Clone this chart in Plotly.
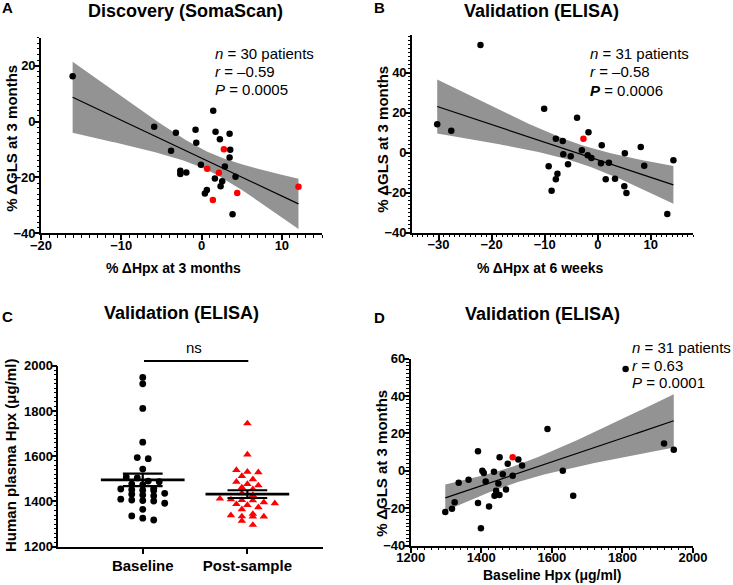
import numpy as np
import plotly.graph_objects as go

W, H = 733, 585
FONT = "Liberation Sans"

# ---------------- Panel A: Discovery (SomaScan) ----------------
a_hpx_black = [-16.06, -5.9, -3.2, -3.8, -0.75, -0.66, -2.65, -2.65, -1.9, -0.08,
               1.45, 1.74, 2.28, 3.49, 3.57, 3.49, 2.9, 1.66, 2.57, 2.37,
               0.66, 0.41, 4.23, 3.86]
a_gls_black = [16.2, -1.9, -4.0, -10.5, -2.9, -7.6, -17.6, -18.8, -18.2, -15.5,
               3.9, -3.7, -6.3, -4.4, -10.1, -12.9, -16.1, -20.4, -21.4, -23.2,
               -24.5, -25.8, -19.8, -33.2]
a_hpx_red = [0.7, 2.78, 2.16, 1.41, 4.44, 12.07]
a_gls_red = [-16.9, -9.9, -18.3, -28.1, -25.6, -23.3]

# ---------------- Panel B: Validation, % change at 6 weeks ----------------
b_hpx_black = [-22.1, -30.25, -27.6, -10.1, -3.9, -1.75, -7.9, -6.6, -6.5, -5.1,
               -3.0, -1.9, -1.2, 0.75, 0.6, 2.1, -9.25, -5.6, -7.6, -7.9,
               -8.7, 1.5, 3.25, 5.1, 5.0, 5.4, 8.1, 8.75, 14.25, 13.1]
b_gls_black = [53.8, 14.2, 11.0, 22.0, 17.5, 10.2, 7.0, 5.8, -0.8, -1.8,
               1.2, -1.3, -2.7, 3.7, -5.3, -5.0, -6.8, -5.8, -10.5, -13.3,
               -19.0, -13.3, -13.0, -0.3, -16.8, -20.2, 2.8, -6.5, -3.8, -30.7]
b_hpx_red = [-2.7]
b_gls_red = [7.0]

# ---------------- Panel C: Baseline vs post-sample Hpx ----------------
c_categories = ["Baseline", "Post-sample"]
c_baseline = [1948, 1920, 1811, 1662, 1594, 1589, 1543, 1508, 1504, 1490, 1487,
              1477, 1473, 1458, 1455, 1452, 1450, 1448, 1436, 1432, 1428, 1425,
              1410, 1406, 1404, 1402, 1392, 1365, 1336, 1326, 1318]
c_post = [1745, 1607, 1539, 1531, 1529, 1512, 1498, 1487, 1477, 1471, 1462,
          1454, 1436, 1428, 1412, 1409, 1406, 1405, 1396, 1392, 1388, 1384,
          1374, 1365, 1345, 1339, 1334, 1333, 1333, 1314, 1296]

# ---------------- Panel D: Baseline Hpx vs % dGLS ----------------
d_hpx_black = [1809, 1587.6, 1918, 1945.5, 1390.7, 1452, 1505, 1475, 1515.7, 1403,
               1407, 1436, 1461, 1489, 1631, 1364, 1336, 1412.5, 1448.5, 1470,
               1442, 1437.5, 1451.5, 1324.5, 1390.7, 1422, 1317, 1298, 1399, 1660.5]
d_gls_black = [54.4, 22.3, 14.6, 11.2, 10.4, 7.2, 6.0, 3.8, 2.9, 0.0,
               -1.2, -0.5, -1.8, -2.7, 0.0, -4.8, -6.4, -5.7, -6.8, -10.0,
               -10.6, -13.3, -12.9, -16.8, -17.2, -19.0, -20.3, -22.0, -30.7, -13.3]
d_hpx_red = [1489]
d_gls_red = [7.2]

# Student t (two-sided 95%) for df = n - 2
T95 = {28: 2.048, 29: 2.045}

BLACK = "black"
RED = "#ff0000"
BAND = "#939393"


def px_x(p):
    return p / W


def px_y(p):
    return 1 - p / H


def fit_band(x, y):
    x = np.asarray(x, float)
    y = np.asarray(y, float)
    n = len(x)
    b, a = np.polyfit(x, y, 1)
    resid = y - (a + b * x)
    s = np.sqrt(np.sum(resid ** 2) / (n - 2))
    xm = x.mean()
    sxx = np.sum((x - xm) ** 2)
    xs = np.linspace(x.min(), x.max(), 120)
    yh = a + b * xs
    se = s * np.sqrt(1.0 / n + (xs - xm) ** 2 / sxx)
    t = T95[n - 2]
    return xs, yh, yh - t * se, yh + t * se


fig = go.Figure()


def add_regression_panel(xa, ya, xb, yb, xr, yr):
    allx = list(xb) + list(xr)
    ally = list(yb) + list(yr)
    xs, yh, lo, hi = fit_band(allx, ally)
    fig.add_trace(go.Scatter(
        x=np.concatenate([xs, xs[::-1]]), y=np.concatenate([hi, lo[::-1]]),
        fill="toself", fillcolor=BAND, line=dict(width=0), mode="lines",
        hoverinfo="skip", showlegend=False, xaxis=xa, yaxis=ya))
    fig.add_trace(go.Scatter(x=xs, y=yh, mode="lines", line=dict(color=BLACK, width=1.2),
                             showlegend=False, xaxis=xa, yaxis=ya))
    fig.add_trace(go.Scatter(x=xb, y=yb, mode="markers",
                             marker=dict(color=BLACK, size=6.5, line=dict(width=0)),
                             showlegend=False, xaxis=xa, yaxis=ya, cliponaxis=False))
    fig.add_trace(go.Scatter(x=xr, y=yr, mode="markers",
                             marker=dict(color=RED, size=6.5, line=dict(width=0)),
                             showlegend=False, xaxis=xa, yaxis=ya, cliponaxis=False))


add_regression_panel("x", "y", a_hpx_black, a_gls_black, a_hpx_red, a_gls_red)
add_regression_panel("x2", "y2", b_hpx_black, b_gls_black, b_hpx_red, b_gls_red)
add_regression_panel("x4", "y4", d_hpx_black, d_gls_black, d_hpx_red, d_gls_red)


# ---- Panel C: scatter dot plot with mean +/- SEM ----
def swarm_offsets(vals, bin_w, step):
    vals = np.asarray(vals, float)
    order = np.argsort(-vals, kind="stable")
    offs = np.zeros(len(vals))
    rows, cur, start = [], [], None
    for i in order:
        v = vals[i]
        if start is None or start - v > bin_w:
            if cur:
                rows.append(cur)
            cur, start = [i], v
        else:
            cur.append(i)
    if cur:
        rows.append(cur)
    for r in rows:
        k = len(r)
        for j, i in enumerate(r):
            offs[i] = (j - (k - 1) / 2.0) * step
    return offs


STEP = 0.105
for ci, (vals, sym, col, size) in enumerate([
        (c_baseline, "circle", BLACK, 6.8),
        (c_post, "triangle-up", RED, 7.5)]):
    offs = swarm_offsets(vals, 21, STEP)
    fig.add_trace(go.Scatter(x=ci + offs, y=vals, mode="markers",
                             marker=dict(symbol=sym, color=col, size=size, line=dict(width=0)),
                             showlegend=False, xaxis="x3", yaxis="y3", cliponaxis=False))
    v = np.asarray(vals, float)
    m = v.mean()
    sem = v.std(ddof=1) / np.sqrt(len(v))
    fig.add_trace(go.Scatter(x=[ci - 0.40, ci + 0.40], y=[m, m], mode="lines",
                             line=dict(color=BLACK, width=2.8), showlegend=False,
                             xaxis="x3", yaxis="y3"))
    for yy in (m - sem, m + sem):
        fig.add_trace(go.Scatter(x=[ci - 0.19, ci + 0.19], y=[yy, yy], mode="lines",
                                 line=dict(color=BLACK, width=2.2), showlegend=False,
                                 xaxis="x3", yaxis="y3"))
    fig.add_trace(go.Scatter(x=[ci, ci], y=[m - sem, m + sem], mode="lines",
                             line=dict(color=BLACK, width=2.2), showlegend=False,
                             xaxis="x3", yaxis="y3"))

# ---------------- Axes ----------------
tickfont = dict(family=FONT, size=13, color="black", weight="bold")


def axis(domain, rng, dtick, minor_dtick, standoff, **kw):
    d = dict(domain=domain, range=rng, showline=True, linecolor="black", linewidth=1.6,
             ticks="outside", ticklen=5, tickwidth=1.6, tickcolor="black",
             showgrid=False, zeroline=False, tickfont=tickfont, tick0=0, dtick=dtick,
             fixedrange=True, automargin=False, ticklabelstandoff=standoff)
    if minor_dtick:
        d["minor"] = dict(ticks="outside", ticklen=2.5, tickwidth=1, tickcolor="black",
                          dtick=minor_dtick, tick0=0, showgrid=False)
    d.update(kw)
    return d


XS, YS = -6, -4
layout = dict(
    width=W, height=H, autosize=False,
    margin=dict(l=0, r=0, t=0, b=0, pad=0, autoexpand=False),
    paper_bgcolor="white", plot_bgcolor="white", showlegend=False,
    xaxis=axis([px_x(41), px_x(322)], [-20, 15], 10, 1, XS, anchor="y"),
    yaxis=axis([px_y(233.3), px_y(37.7)], [-40, 30], 20, 2, YS, anchor="x"),
    xaxis2=axis([px_x(412), px_x(693.3)], [-35, 18], 10, 1, XS, anchor="y2"),
    yaxis2=axis([px_y(232.7), px_y(34.7)], [-40, 59], 20, 2, YS, anchor="x2"),
    xaxis3=axis([px_x(58.3), px_x(322.7)], [-0.807, 1.72], None, None, -1, anchor="y3",
                tickmode="array", tickvals=[0, 1], ticktext=c_categories,
                tickfont=dict(family=FONT, size=15, color="black", weight="bold")),
    yaxis3=axis([px_y(546.7), px_y(365.7)], [1200, 2000], 200, 20, YS, anchor="x3"),
    xaxis4=axis([px_x(410.7), px_x(693)], [1200, 2000], 200, 20, XS, anchor="y4"),
    yaxis4=axis([px_y(545.7), px_y(358.5)], [-40, 60], 20, 2, YS, anchor="x4"),
)
fig.update_layout(**layout)

# ---------------- Text annotations ----------------
ann = []


def text(px, py, s, size, bold=False, xanchor="center", angle=0):
    ann.append(dict(x=px_x(px), y=px_y(py), xref="paper", yref="paper", text=s,
                    showarrow=False, xanchor=xanchor, yanchor="middle", textangle=angle,
                    font=dict(family=FONT, size=size, color="black",
                              weight="bold" if bold else "normal")))


# Panel letters
text(7.7, 8, "A", 15, True)
text(379, 8, "B", 15, True)
text(7.7, 316, "C", 15, True)
text(379, 317, "D", 15, True)

# Panel titles
text(185, 11, "Discovery (SomaScan)", 18, True)
text(541.7, 11, "Validation (ELISA)", 18, True)
text(181.7, 313, "Validation (ELISA)", 18, True)
text(542.7, 314, "Validation (ELISA)", 18, True)

# Axis titles
text(173, 267.7, "% ΔHpx at 3 months", 14, True)
text(540, 267.7, "% ΔHpx at 6 weeks", 14, True)
text(552, 575, "Baseline Hpx (μg/ml)", 14, True)
text(10.7, 138, "% ΔGLS at 3 months", 15, True, angle=-90)
text(381.7, 139, "% ΔGLS at 3 months", 15, True, angle=-90)
text(10, 456, "Human plasma Hpx (μg/ml)", 15, True, angle=-90)
text(380.7, 463, "% ΔGLS at 3 months", 15, True, angle=-90)

# Statistics
text(213.3, 53.3, "<i>n</i> = 30 patients", 15, xanchor="left")
text(213.3, 71.3, "<i>r</i> = –0.59", 15, xanchor="left")
text(213.3, 89.3, "<i>P</i> = 0.0005", 15, xanchor="left")
text(588.3, 53.3, "<i>n</i> = 31 patients", 15, xanchor="left")
text(588.3, 71.7, "<i>r</i> = –0.58", 15, xanchor="left")
text(588.3, 90, "<b><i>P</i></b> = 0.0006", 15, xanchor="left")
text(630, 347.3, "<i>n</i> = 31 patients", 15, xanchor="left")
text(630, 365, "<i>r</i> = 0.63", 15, xanchor="left")
text(630, 382.7, "<i>P</i> = 0.0001", 15, xanchor="left")

# ns comparison bar (panel C)
text(194.3, 347.7, "ns", 15)
fig.update_layout(annotations=ann)
fig.add_shape(type="line", xref="paper", yref="paper",
              x0=px_x(144), x1=px_x(248.3), y0=px_y(361), y1=px_y(361),
              line=dict(color="black", width=2))

fig.write_html("out.html", config={"displayModeBar": False},
               post_script="document.body.style.margin='0';"
                           "document.body.style.overflow='hidden';")
